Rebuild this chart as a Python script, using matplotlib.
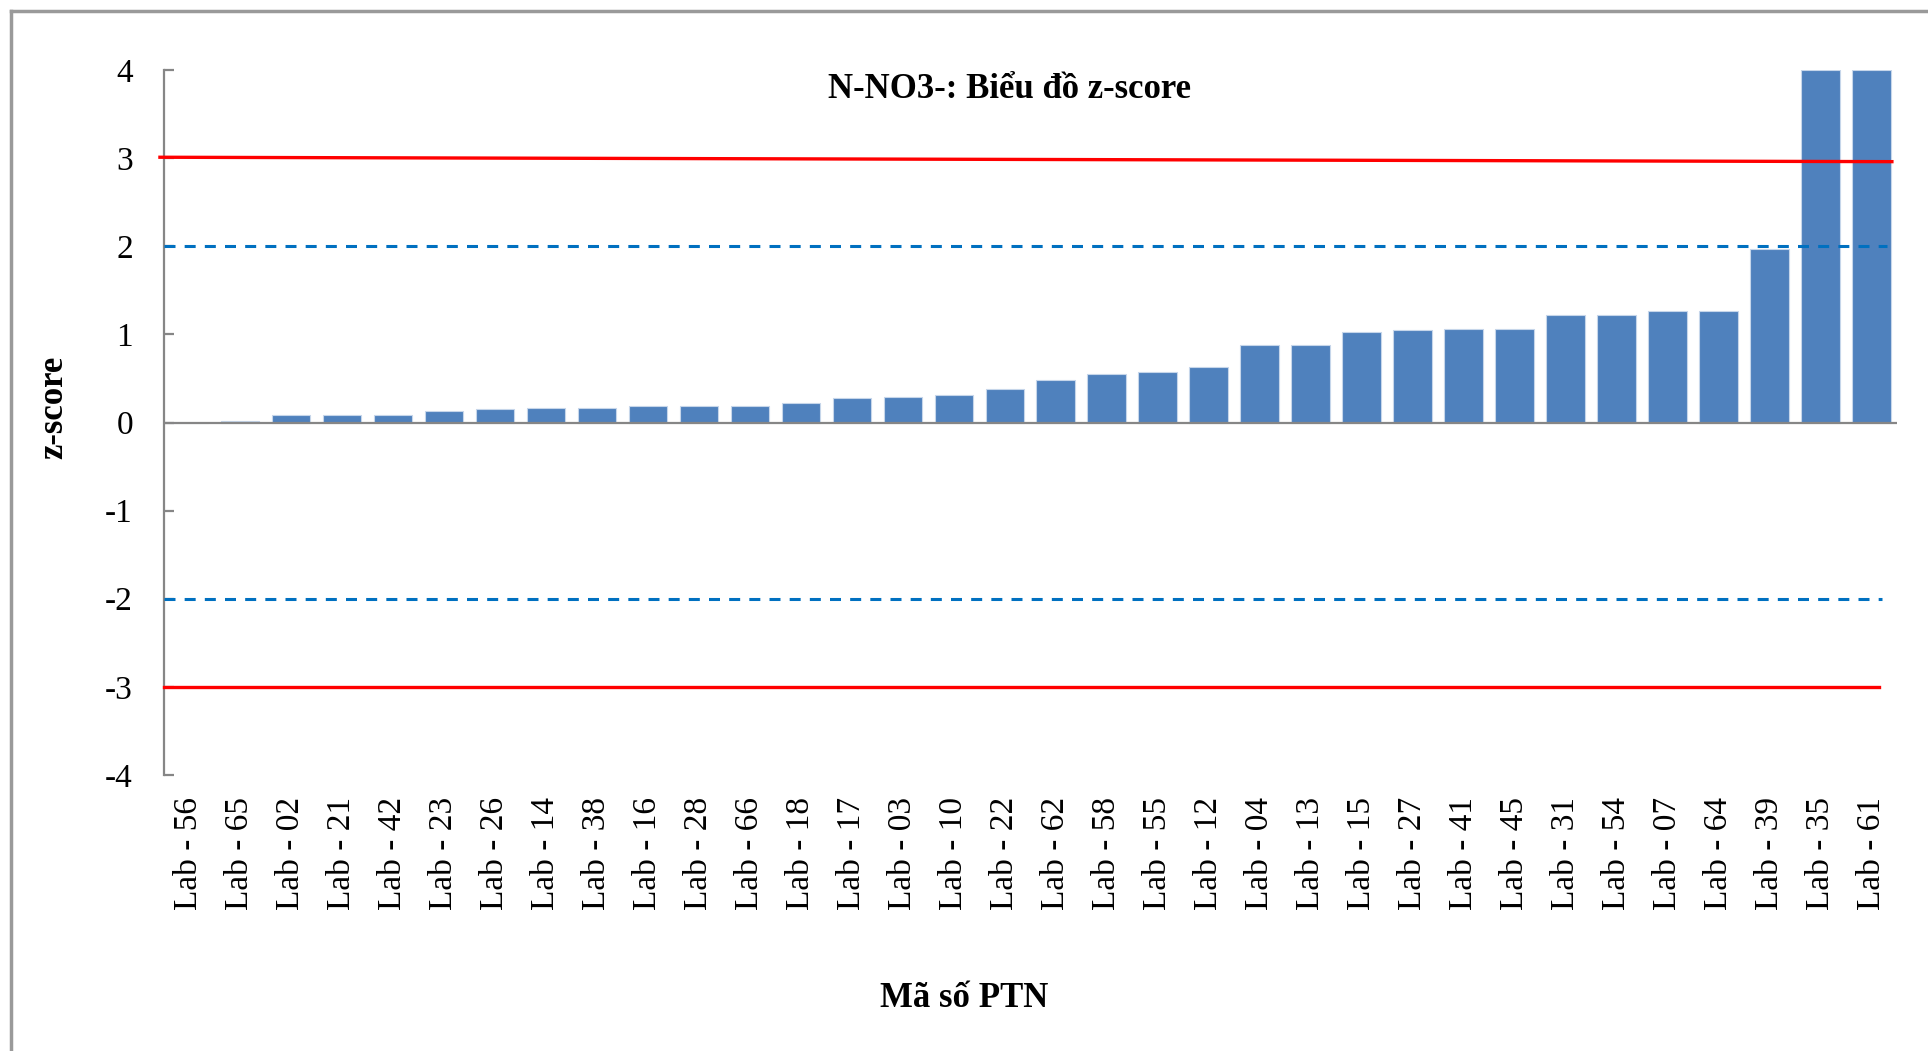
import numpy as np
import matplotlib
matplotlib.use("Agg")
import matplotlib.pyplot as plt
from matplotlib.lines import Line2D

# lab codes (sorted by z-score) and their z-scores
labs = ["56", "65", "02", "21", "42", "23", "26", "14", "38", "16", "28", "66",
        "18", "17", "03", "10", "22", "62", "58", "55", "12", "04", "13", "15",
        "27", "41", "45", "31", "54", "07", "64", "39", "35", "61"]
z_scores = [0.0, 0.02, 0.08, 0.09, 0.09, 0.125, 0.15, 0.16, 0.16, 0.19, 0.19, 0.19,
            0.225, 0.28, 0.295, 0.315, 0.38, 0.485, 0.55, 0.57, 0.635, 0.875, 0.875, 1.03,
            1.045, 1.065, 1.065, 1.22, 1.22, 1.27, 1.27, 1.965, 4.0, 4.0]
tick_labels = [f"Lab - {c}" for c in labs]

# limit lines (start/end x in category units, y values)
action_hi_x, action_hi_y = [-0.57, 33.4], [3.01, 2.96]
action_lo_x, action_lo_y = [-0.5, 33.15], [-3.0, -3.0]
warn_hi_x, warn_hi_y = [-0.5, 33.3], [2.0, 2.0]
warn_lo_x, warn_lo_y = [-0.5, 33.2], [-2.0, -2.0]

plt.rcParams['font.family'] = ['Liberation Serif', 'DejaVu Serif']
plt.rcParams['axes.unicode_minus'] = False

W, H = 1928, 1051
fig = plt.figure(figsize=(W / 100, H / 100), dpi=100)
ax = fig.add_axes([163.5 / W, 1 - 775 / H, (1897 - 163.5) / W, (775 - 70) / H])

x = np.arange(len(labs))
ax.bar(x, z_scores, width=0.755, color="#4f81bd", edgecolor="#c6d6ea", linewidth=0.8, zorder=2)

axis_grey = "#868686"
ax.axhline(0, color=axis_grey, lw=1.6, zorder=3)

ax.plot(action_hi_x, action_hi_y, color="#ff0000", lw=2.4, zorder=4, clip_on=False)
ax.plot(action_lo_x, action_lo_y, color="#ff0000", lw=2.4, zorder=4, clip_on=False)
for xs, ys in [(warn_hi_x, warn_hi_y), (warn_lo_x, warn_lo_y)]:
    ln, = ax.plot(xs, ys, color="#0070c0", lw=2.2, zorder=4, clip_on=False)
    ln.set_dashes((3.6, 3.0))

ax.set_xlim(-0.5, len(labs) - 0.5)
ax.set_ylim(-4, 4)
ax.set_yticks(range(-4, 5))
ax.set_xticks(x)
ax.set_xticklabels(tick_labels, rotation=90, fontsize=24, va="top", ha="center")
ax.tick_params(axis="x", length=0, pad=16)
ax.tick_params(axis="y", direction="in", length=7, width=1.6, color=axis_grey,
               labelsize=24, pad=22)

for side in ["top", "right", "bottom"]:
    ax.spines[side].set_visible(False)
ax.spines["left"].set_color(axis_grey)
ax.spines["left"].set_linewidth(1.6)

fig.text(1010 / W, 1 - 98 / H, "N-NO3-: Biểu đồ z-score", fontsize=25,
         fontweight="bold", ha="center", va="baseline")
fig.text(0.5, 1 - 1007 / H, "Mã số PTN", fontsize=25, fontweight="bold",
         ha="center", va="baseline")
fig.text(54 / W, 1 - 407 / H, "z-score", fontsize=25, fontweight="bold",
         rotation=90, ha="center", va="center")

# outer chart frame (only top and left edges are in view)
fig.add_artist(Line2D([11 / W, 1], [1 - 11 / H, 1 - 11 / H], color="#9a9a9a", lw=2.5))
fig.add_artist(Line2D([11 / W, 11 / W], [0, 1 - 11 / H], color="#9a9a9a", lw=2.5))

fig.savefig("out.png", dpi=100)
